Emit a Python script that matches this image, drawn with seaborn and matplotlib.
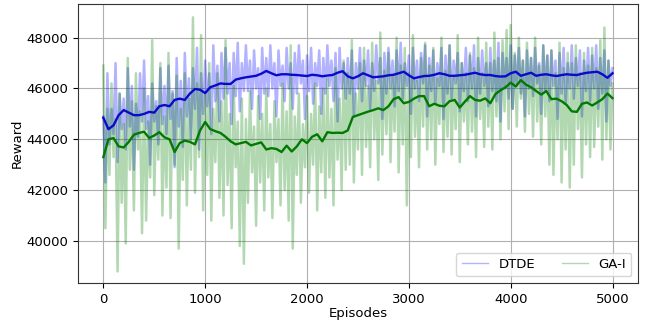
import numpy as np
import pandas as pd
import matplotlib
matplotlib.use("Agg")
import matplotlib.pyplot as plt
import seaborn as sns

# ---- data ----
series_names = ["DTDE", "GA-I"]

# raw rewards every 20 episodes, in hundreds
dtde_raw_h = [
    449, 423, 466, 438, 452, 442, 470, 431, 458, 444,
    456, 436, 468, 445, 461, 428, 454, 441, 466, 447,
    471, 444, 457, 430, 462, 447, 455, 438, 468, 446,
    461, 442, 469, 448, 459, 429, 472, 445, 463, 437,
    474, 449, 464, 440, 468, 452, 476, 436, 466, 450,
    471, 453, 466, 442, 477, 455, 469, 447, 474, 456,
    476, 458, 470, 446, 474, 457, 478, 451, 470, 459,
    477, 459, 471, 452, 475, 460, 468, 448, 476, 458,
    472, 457, 477, 460, 470, 449, 475, 461, 469, 455,
    476, 460, 470, 452, 474, 458, 477, 462, 471, 448,
    473, 459, 476, 454, 470, 461, 475, 450, 472, 458,
    477, 461, 471, 455, 474, 447, 476, 460, 470, 456,
    472, 458, 475, 449, 470, 460, 476, 455, 471, 461,
    475, 452, 470, 459, 477, 462, 472, 448, 474, 458,
    476, 460, 471, 453, 475, 459, 478, 456, 470, 461,
    473, 450, 476, 460, 471, 455, 474, 462, 477, 449,
    472, 459, 475, 454, 470, 461, 476, 448, 473, 458,
    477, 456, 471, 462, 474, 451, 470, 459, 476, 455,
    473, 460, 477, 449, 472, 458, 475, 461, 470, 453,
    476, 459, 471, 455, 478, 447, 474, 460, 472, 456,
    477, 452, 473, 461, 476, 458, 471, 449, 475, 460,
    472, 457, 476, 462, 470, 450, 477, 459, 473, 455,
    475, 461, 471, 448, 474, 458, 476, 454, 470, 460,
    477, 456, 472, 461, 475, 449, 471, 459, 476, 455,
    473, 460, 477, 452, 472, 458, 475, 447, 471, 461,
    468,
]
gai_raw_h = [
    469, 405, 452, 426, 462, 433, 448, 388, 458, 415,
    446, 399, 472, 428, 455, 412, 466, 436, 451, 403,
    460, 408, 447, 425, 479, 418, 453, 432, 470, 410,
    449, 421, 474, 409, 458, 430, 465, 397, 452, 424,
    466, 414, 456, 428, 488, 419, 462, 433, 481, 412,
    458, 426, 470, 408, 452, 431, 466, 417, 455, 410,
    479, 422, 450, 405, 461, 429, 447, 398, 456, 391,
    448, 415, 459, 427, 445, 406, 457, 423, 450, 412,
    460, 425, 446, 409, 455, 431, 448, 414, 462, 420,
    451, 408, 477, 397, 449, 426, 458, 415, 446, 429,
    457, 419, 450, 430, 462, 412, 453, 427, 460, 417,
    464, 425, 452, 414, 468, 432, 456, 420, 471, 428,
    466, 430, 479, 423, 458, 436, 470, 426, 476, 437,
    461, 429, 478, 440, 463, 424, 482, 434, 467, 442,
    474, 431, 465, 443, 480, 427, 469, 438, 476, 414,
    466, 433, 481, 441, 463, 429, 472, 445, 478, 436,
    469, 440, 476, 430, 464, 446, 480, 435, 467, 441,
    477, 434, 465, 444, 481, 431, 470, 447, 466, 438,
    474, 443, 468, 433, 480, 448, 466, 437, 478, 445,
    470, 436, 482, 449, 472, 440, 479, 451, 483, 444,
    485, 452, 474, 445, 480, 456, 471, 443, 478, 450,
    472, 441, 480, 447, 469, 438, 477, 449, 473, 430,
    475, 426, 466, 440, 478, 423, 468, 436, 474, 421,
    470, 430, 477, 444, 466, 425, 474, 438, 469, 433,
    476, 437, 468, 445, 479, 432, 484, 440, 471, 436,
    462,
]

# smoothed (moving-average) curves every 50 episodes
dtde_smooth = [
    44850, 44400, 44550, 44950, 45150, 45050, 44950, 44950, 45000, 45080,
    45050, 45300, 45350, 45300, 45550, 45600, 45550, 45800, 45980, 45950,
    45820, 46050, 46120, 46200, 46180, 46180, 46350, 46400, 46440, 46470,
    46500, 46580, 46690, 46600, 46520, 46560, 46560, 46540, 46530, 46510,
    46490, 46540, 46520, 46480, 46510, 46530, 46620, 46680, 46480, 46400,
    46480, 46600, 46520, 46440, 46460, 46480, 46520, 46540, 46600, 46660,
    46520, 46400, 46450, 46490, 46500, 46540, 46600, 46560, 46500, 46500,
    46520, 46540, 46580, 46620, 46560, 46530, 46530, 46490, 46470, 46480,
    46600, 46660, 46500, 46560, 46620, 46500, 46540, 46560, 46520, 46490,
    46530, 46560, 46540, 46530, 46580, 46620, 46640, 46660, 46560, 46420,
    46600,
]
gai_smooth = [
    43300, 44000, 44050, 43720, 43680, 43900, 44180, 44250, 44300, 44050,
    44150, 44280, 44080, 44000, 43500, 43850, 43950, 43900, 43800, 44350,
    44680, 44400, 44320, 44250, 44100, 43920, 43800, 43850, 43900, 43760,
    43820, 43880, 43600, 43650, 43620, 43500, 43750, 43520, 43720, 44000,
    43850, 44100, 44200, 43920, 44280, 44250, 44260, 44250, 44350, 44880,
    44950, 45020, 45090, 45150, 45220, 45150, 45300, 45580, 45660, 45420,
    45470, 45600, 45700, 45700, 45300, 45400, 45320, 45300, 45500, 45550,
    45250, 45480, 45700, 45550, 45520, 45610, 45420, 45780, 45930, 46050,
    46230, 46080, 46330, 46150, 46050, 45900, 45760, 45900, 45580, 45600,
    45500, 45350, 45100, 45080, 45400, 45450, 45330, 45450, 45580, 45800,
    45620,
]

x_ticks = [0, 1000, 2000, 3000, 4000, 5000]
y_ticks = [40000, 42000, 44000, 46000, 48000]

raw_ep = np.arange(len(dtde_raw_h)) * 20
smooth_ep = np.arange(len(dtde_smooth)) * 50

raw_df = pd.DataFrame({
    "Episodes": np.concatenate([raw_ep, raw_ep]),
    "Reward": np.concatenate([np.array(dtde_raw_h) * 100, np.array(gai_raw_h) * 100]),
    "Method": [series_names[0]] * len(raw_ep) + [series_names[1]] * len(raw_ep),
})
smooth_df = pd.DataFrame({
    "Episodes": np.concatenate([smooth_ep, smooth_ep]),
    "Reward": np.concatenate([dtde_smooth, gai_smooth]),
    "Method": [series_names[0]] * len(smooth_ep) + [series_names[1]] * len(smooth_ep),
})

# ---- plot ----
plt.rcParams["font.family"] = ["DejaVu Sans"]
fig = plt.figure(figsize=(6.49, 3.24), dpi=100)
ax = fig.add_axes([0.120, 0.127, 0.863, 0.861])

raw_colors = {"DTDE": "blue", "GA-I": "green"}
line_colors = {"DTDE": "#0a0acc", "GA-I": "#007a00"}
for name in series_names:
    d = raw_df[raw_df["Method"] == name]
    sns.lineplot(data=d, x="Episodes", y="Reward", color=raw_colors[name],
                 alpha=0.3, linewidth=1.8, label=name, ax=ax)
for name in series_names:
    d = smooth_df[smooth_df["Method"] == name]
    sns.lineplot(data=d, x="Episodes", y="Reward", color=line_colors[name],
                 linewidth=1.7, ax=ax, legend=False)

ax.set_xlim(-250, 5250)
ax.set_ylim(38350, 49330)
ax.set_xticks(x_ticks)
ax.set_yticks(y_ticks)
ax.tick_params(labelsize=9.5)
ax.set_xlabel("Episodes", fontsize=9.5, labelpad=1)
ax.set_ylabel("Reward", fontsize=9.5, labelpad=2)
ax.grid(True, color="#b0b0b0", linewidth=0.8)
for s in ax.spines.values():
    s.set_color("#333333")

leg = ax.legend(loc="lower right", ncol=2, fontsize=9.5)
for lh in leg.get_lines():
    lh.set_linewidth(1.0)

fig.savefig("out.png", dpi=100)
